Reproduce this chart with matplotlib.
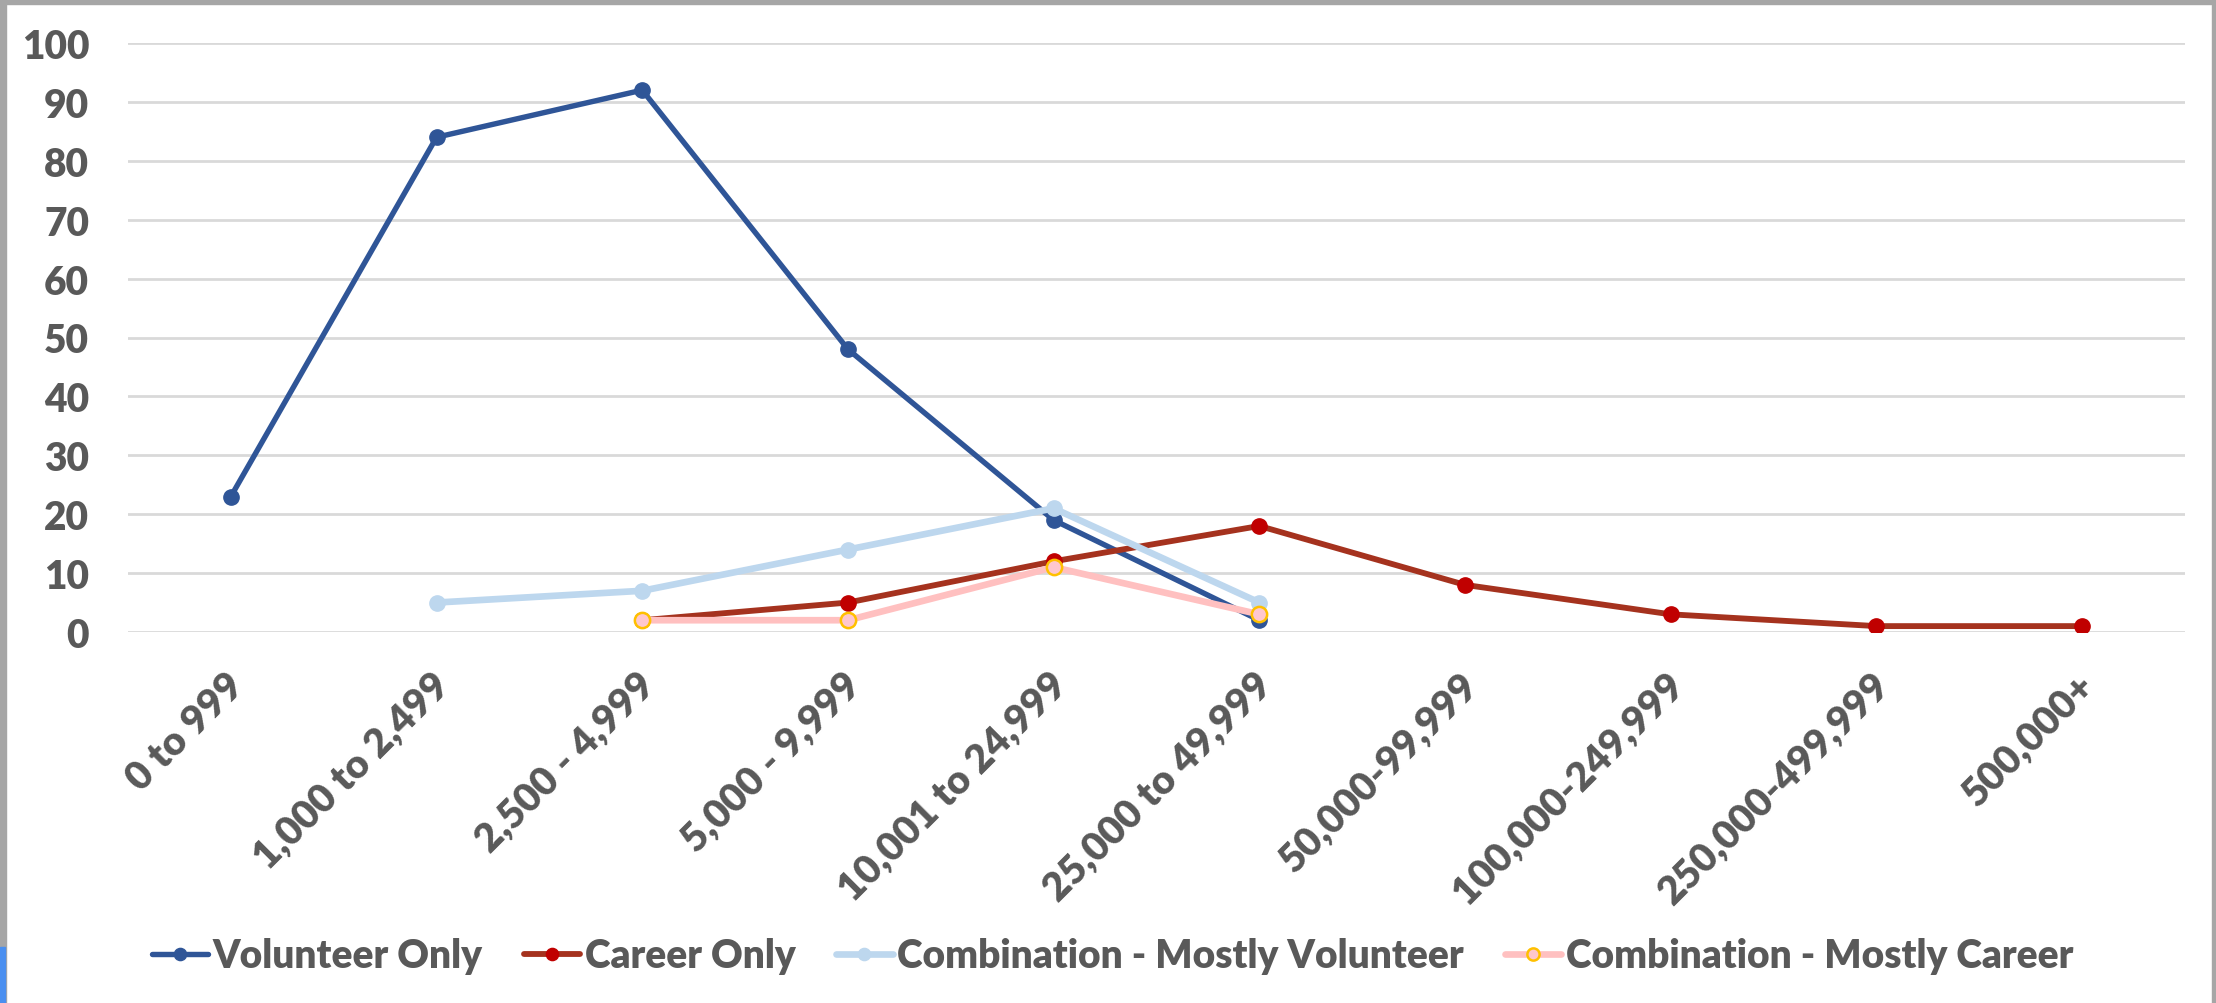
import matplotlib
matplotlib.use("Agg")
import matplotlib.pyplot as plt
from matplotlib.patches import Rectangle
import numpy as np

categories = ["0 to 999", "1,000 to 2,499", "2,500 - 4,999", "5,000 - 9,999",
              "10,001 to 24,999", "25,000 to 49,999", "50,000-99,999",
              "100,000-249,999", "250,000-499,999", "500,000+"]
volunteer_only = [23, 84, 92, 48, 19, 2, None, None, None, None]
career_only = [None, None, 2, 5, 12, 18, 8, 3, 1, 1]
combo_mostly_volunteer = [None, 5, 7, 14, 21, 5, None, None, None, None]
combo_mostly_career = [None, None, 2, 2, 11, 3, None, None, None, None]
series_names = ["Volunteer Only", "Career Only",
                "Combination - Mostly Volunteer", "Combination - Mostly Career"]
yticks = [0, 10, 20, 30, 40, 50, 60, 70, 80, 90, 100]

plt.rcParams['font.family'] = ['Lato', 'DejaVu Sans']
TXT = "#595959"
W = "heavy"

fig = plt.figure(figsize=(22.16, 10.04), dpi=100)
ax = fig.add_axes([128/2216, 1-633/1004, (2185-128)/2216, (633-44)/1004])

x = np.arange(len(categories))
def arr(v):
    return np.array([np.nan if a is None else a for a in v], dtype=float)

styles = [
    dict(color="#2F5597", lw=3.9, marker="o", ms=11, mfc="#2F5597", mec="#2F5597"),
    dict(color="#A5321E", lw=4.2, marker="o", ms=11, mfc="#C00000", mec="#C00000"),
    dict(color="#BDD7EE", lw=4.8, marker="o", ms=11, mfc="#BDD7EE", mec="#BDD7EE"),
    dict(color="#FFC0C0", lw=4.8, marker="o", ms=11, mfc="#FFC7CE", mec="#FFC000", mew=1.8),
]
data = [volunteer_only, career_only, combo_mostly_volunteer, combo_mostly_career]
handles = []
for name, d, st in zip(series_names, data, styles):
    h, = ax.plot(x, arr(d), label=name, solid_capstyle="round", zorder=3, **st)
    handles.append(h)

ax.set_xlim(-0.5, len(categories) - 0.5)
ax.set_ylim(0, 100)
ax.set_yticks(yticks)
ax.set_yticklabels([str(t) for t in yticks], fontsize=28, fontweight=W, color=TXT)
ax.set_xticks(x)
ax.set_xticklabels([])
for xi, cat in zip(x, categories):
    ax.annotate(cat, xy=(xi, 0), xycoords=("data", "axes fraction"),
                xytext=(5, -33.5), textcoords="offset points",
                fontsize=28.5, fontweight=W, color=TXT, rotation=45,
                ha="right", va="center", rotation_mode="anchor",
                annotation_clip=False)
ax.tick_params(axis="both", length=0)
ax.tick_params(axis="y", pad=28)
ax.grid(axis="y", color="#D9D9D9", lw=2)
ax.set_axisbelow(True)
for s in ax.spines.values():
    s.set_visible(False)

leg = fig.legend(handles=handles, loc="center", bbox_to_anchor=(0.502, 0.047), ncol=4,
                 frameon=False,
                 prop=dict(family=['Lato', 'DejaVu Sans'], weight=W, size=28),
                 handlelength=1.45, handletextpad=0.12, columnspacing=1.05,
                 labelcolor=TXT, markerscale=0.8)

# figure frame
fig.patches.append(Rectangle((0, 1-5/1004), 1, 5/1004, transform=fig.transFigure,
                             color="#A6A6A6", zorder=0))
fig.patches.append(Rectangle((0, 0), 6/2216, 1, transform=fig.transFigure,
                             color="#A6A6A6", zorder=0))
fig.patches.append(Rectangle((1-4/2216, 0), 4/2216, 1, transform=fig.transFigure,
                             color="#A6A6A6", zorder=0))
fig.patches.append(Rectangle((0, 0), 5/2216, 56/1004, transform=fig.transFigure,
                             color="#4A8FF0", zorder=1))

fig.savefig("out.png", dpi=100)
